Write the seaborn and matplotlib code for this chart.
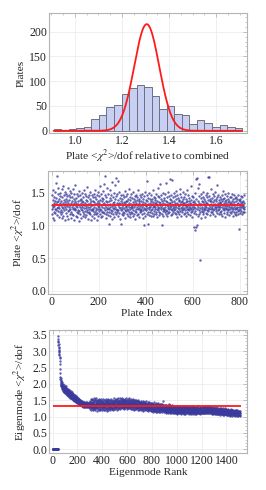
import numpy as np
import pandas as pd
import matplotlib
matplotlib.use("Agg")
import matplotlib.pyplot as plt
from matplotlib.ticker import MultipleLocator
import seaborn as sns

# ---------------- data ----------------
# Panel 1: histogram of plate <chi^2>/dof relative to combined
hist_edges = [0.910, 0.942, 0.974, 1.006, 1.038, 1.070, 1.102, 1.134, 1.166, 1.198,
              1.230, 1.262, 1.294, 1.326, 1.358, 1.390, 1.422, 1.454, 1.486, 1.518,
              1.550, 1.582, 1.614, 1.646, 1.678, 1.710]
hist_counts = [3, 0, 3, 5, 8, 23, 31, 48, 52, 74, 86, 92, 88, 70, 44, 50, 33, 31, 13, 22,
               16, 8, 11, 8, 5]
# Gaussian model curve parameters (amplitude, mean, sigma)
gauss_amp, gauss_mu, gauss_sigma = 215.0, 1.305, 0.053

# Panel 2: plate <chi^2>/dof per plate (hundredths), plate index 0..819
plate_chi2_x100 = [
131,118,147,125,139,112,128,154,121,135,144,109,130,138,126,151,119,133,142,124,
165,127,136,176,116,129,148,137,122,158,131,113,140,127,150,135,121,145,118,132,
137,124,156,111,129,143,120,134,161,127,115,139,146,123,131,152,108,136,128,141,
119,133,149,126,138,114,145,130,122,157,135,110,128,147,124,139,117,153,132,126,
143,121,134,112,150,129,137,118,144,125,131,156,116,140,127,135,109,148,123,138,
162,126,130,115,142,134,121,149,128,113,137,124,145,119,133,131,153,122,107,139,
128,146,117,135,125,141,111,132,150,123,138,129,114,144,120,136,127,155,118,131,
134,122,148,113,139,127,145,116,130,124,159,121,137,110,143,128,133,119,146,126,
120,141,129,152,117,135,123,109,138,131,126,147,114,132,144,122,137,125,118,149,
136,112,128,143,121,133,155,118,127,140,124,108,135,146,119,130,126,151,115,138,
129,145,122,134,160,117,139,126,131,113,148,124,137,120,142,128,115,153,133,121,
140,127,164,119,135,176,123,132,147,118,129,138,111,144,125,158,121,136,127,116,
131,149,120,102,137,126,142,114,155,128,133,119,146,124,139,110,130,167,122,135,
127,143,118,136,125,150,113,132,140,121,162,129,117,145,126,172,134,120,148,123,
168,131,124,139,115,135,128,152,119,142,127,133,110,102,138,123,146,129,117,134,
125,140,121,131,147,116,136,127,143,119,134,124,153,112,130,138,122,145,128,118,
137,126,149,115,132,141,123,135,120,156,128,117,139,126,144,113,133,129,148,121,
130,119,142,127,136,114,151,124,133,129,140,118,145,122,131,137,110,147,125,134,
120,143,128,116,139,131,125,154,118,134,127,141,113,137,123,146,130,121,138,126,
144,122,133,117,149,128,136,124,140,112,131,100,127,145,119,135,126,152,115,132,
139,124,130,146,118,137,127,168,102,133,121,142,128,116,150,125,134,120,141,129,
123,137,115,131,147,126,140,119,133,128,155,114,136,122,144,130,118,139,125,134,
128,142,120,135,117,149,126,132,138,113,145,124,129,158,121,136,127,116,143,131,
119,134,163,125,140,128,146,118,131,101,137,122,150,127,134,115,142,126,139,124,
133,120,148,129,117,138,124,165,131,143,122,136,114,127,152,130,119,145,126,135,
121,141,171,128,134,116,147,125,139,130,169,123,136,118,144,127,132,120,150,129,
137,124,131,145,119,134,126,153,117,140,128,135,122,146,113,132,127,142,121,138,
125,139,130,118,148,133,122,156,127,136,115,143,129,124,137,120,151,131,126,134,
140,117,135,127,144,123,132,119,149,128,136,114,141,126,130,155,121,138,125,133,
118,146,129,137,124,142,116,135,131,127,160,120,139,126,133,113,145,128,122,136,
131,125,143,119,137,128,97,150,122,93,134,127,171,98,140,117,173,132,100,126,
138,115,158,129,163,124,135,118,145,131,47,127,120,142,133,112,148,126,137,122,
129,144,121,136,117,152,127,133,124,140,113,138,130,126,147,119,135,128,143,123,
134,118,150,174,127,139,122,175,131,126,145,116,137,129,141,120,156,133,125,138,
121,142,130,127,148,118,136,124,139,132,126,145,115,133,128,151,122,137,129,140,
125,162,131,119,143,128,135,123,147,130,117,139,126,134,121,144,129,136,118,141,
133,122,146,128,137,115,140,126,153,131,119,135,127,142,124,138,113,149,130,125,
139,127,134,121,145,130,118,141,126,136,123,150,129,116,138,132,125,144,120,134,
128,143,119,135,127,148,122,137,131,114,140,126,133,147,121,129,136,118,142,125,
131,120,144,127,138,116,133,125,141,129,122,146,118,135,128,139,124,95,131,137,
126,140,119,134,128,145,122,136,130,117,143,127,132,121,138,125,147,129,120,135,
]
combined_chi2 = 1.31

# Panel 3: eigenmode <chi^2>/dof (hundredths), eigenmode rank 1..1510
eig_chi2_x100 = [
2,2,2,2,2,2,2,2,2,2,2,2,2,2,2,2,2,2,2,2,
2,2,2,2,2,2,2,2,2,2,2,2,2,2,2,2,2,2,2,2,
2,2,345,336,328,331,318,322,309,312,301,305,296,292,288,283,279,271,262,247,
232,221,214,209,217,203,198,211,196,205,193,201,189,207,195,186,199,191,184,197,
188,194,182,201,185,179,192,186,176,190,183,197,178,187,181,174,193,180,185,172,
184,178,189,175,181,193,171,186,177,183,169,188,174,180,165,185,176,170,182,173,
168,179,174,185,166,177,171,163,182,170,175,161,178,167,173,180,164,171,158,176,
169,162,174,166,158,178,164,170,156,167,173,160,165,171,154,168,162,175,157,166,
163,158,170,152,165,160,155,168,149,162,157,164,153,166,159,150,161,156,167,148,
158,163,151,157,146,162,154,149,160,152,145,158,155,147,161,150,144,156,153,142,
152,147,158,143,153,149,141,155,146,151,139,150,144,154,140,148,145,137,152,143,
146,141,150,137,145,148,135,143,139,149,134,144,140,136,147,133,142,138,145,131,
141,137,145,133,140,136,143,130,139,144,134,138,132,146,135,141,129,137,143,133,
138,134,142,130,139,135,144,131,137,140,128,136,141,133,145,129,138,134,132,140,
135,141,131,138,133,143,129,136,140,132,137,128,142,134,139,130,136,144,131,137,
149,129,140,123,144,135,153,126,142,131,146,120,138,150,133,127,143,136,155,130,
131,145,124,139,152,128,141,134,119,147,137,126,156,132,140,122,144,136,129,150,
140,127,153,133,121,146,138,130,148,125,135,157,129,142,118,137,145,131,151,134,
126,143,135,150,128,139,122,147,136,131,154,124,141,133,145,120,138,152,130,142,
144,132,119,138,151,127,140,135,148,123,136,129,155,134,141,121,146,137,128,149,
134,148,125,141,130,153,122,137,145,128,139,151,126,135,143,119,140,132,149,136,
129,142,137,120,150,133,146,127,138,155,124,136,144,131,140,118,147,135,126,152,
145,123,139,134,149,128,141,121,136,153,130,143,127,138,146,132,124,150,137,129,
137,151,126,144,132,119,147,136,129,142,154,125,139,133,148,122,140,135,127,145,
124,139,148,131,143,127,152,135,121,146,133,140,129,156,136,123,144,138,130,147,
141,128,150,136,124,147,139,131,155,133,126,145,137,152,129,142,120,148,135,140,
130,153,137,144,127,149,134,123,146,140,157,132,138,125,151,136,143,129,148,139,
147,135,124,142,156,131,139,145,128,150,137,133,153,126,141,148,130,144,136,158,
133,146,140,127,151,138,125,149,143,134,155,130,141,147,129,152,137,124,145,139,
150,131,144,137,126,153,140,135,148,129,142,158,133,146,139,124,151,136,143,130,
137,149,128,143,154,132,140,125,147,136,130,152,141,127,145,138,156,131,144,135,
126,143,138,151,129,146,134,122,148,140,133,155,137,128,144,131,150,139,124,146,
142,130,147,135,124,149,138,131,153,127,141,136,145,129,151,134,120,143,137,148,
131,145,127,138,150,124,141,133,147,129,136,152,122,139,144,128,135,149,126,140,
138,126,143,132,148,121,137,145,130,151,134,125,142,136,119,146,131,139,127,144,
128,143,131,139,122,146,134,126,149,130,137,120,141,135,127,145,132,138,124,140,
136,124,142,129,147,121,135,131,144,126,139,118,133,146,128,137,123,141,130,134,
125,139,130,143,120,134,127,145,132,122,138,129,148,124,136,131,119,140,128,135,
133,121,140,127,136,124,144,130,118,138,126,142,131,123,135,128,146,120,137,129,
122,136,128,141,125,132,119,139,127,134,121,143,130,126,137,117,133,129,140,124,
131,117,136,125,142,121,129,134,115,138,126,122,140,119,132,127,144,118,130,135,
120,134,128,116,139,124,131,119,137,127,113,135,123,141,126,118,133,129,122,138,
129,115,137,124,132,120,140,126,117,134,128,121,143,119,130,125,136,114,131,127,
118,133,125,139,121,128,114,136,123,131,127,119,138,124,116,134,129,122,140,126,
130,121,127,115,135,124,132,118,126,149,120,137,123,113,131,128,119,134,125,122,
119,132,124,113,137,121,128,116,130,125,111,134,122,127,118,135,120,129,114,126,
127,115,131,122,118,136,124,112,129,120,133,117,125,138,121,114,130,123,116,128,
113,126,120,134,117,123,129,111,127,121,115,132,124,118,130,112,126,119,135,122,
124,114,128,119,133,116,122,127,110,125,118,131,113,121,129,117,123,126,112,130,
116,127,121,110,130,118,124,113,128,120,115,133,119,122,111,126,117,129,121,114,
122,112,126,118,109,129,116,121,114,131,119,111,125,117,128,113,120,124,110,127,
115,128,120,111,124,118,132,113,122,127,108,119,125,116,130,114,121,112,126,118,
126,113,119,129,115,122,110,127,117,123,131,112,120,116,128,109,124,118,114,130,
111,124,118,132,113,121,127,115,119,109,128,122,116,125,112,130,117,121,126,114,
120,128,114,117,125,110,123,119,131,113,118,126,111,122,129,115,121,108,127,116,
113,125,118,129,110,121,116,127,112,124,119,108,130,115,122,117,126,111,120,128,
122,111,127,116,120,131,113,118,125,109,123,117,128,114,121,126,110,119,115,129,
117,128,112,121,126,108,119,124,115,130,113,120,116,127,111,122,118,125,109,123,
125,114,120,110,129,117,122,113,127,119,111,126,116,121,131,112,118,124,115,120,
112,123,118,127,109,121,115,129,114,120,126,110,119,124,117,128,113,122,116,111,
121,113,127,118,110,124,116,130,112,122,119,126,114,129,117,111,125,120,115,128,
116,128,112,123,119,131,114,120,126,110,122,117,129,113,124,118,127,115,121,112,
125,114,121,130,116,123,111,127,119,115,132,118,124,112,128,120,117,126,113,122,
113,126,118,110,124,120,129,114,122,117,127,111,121,125,115,130,118,112,123,119,
120,111,125,116,122,109,127,113,119,124,108,121,115,128,112,118,123,110,117,126,
110,122,115,127,112,119,108,124,116,113,126,111,120,117,109,123,114,128,118,112,
119,108,123,113,117,126,110,121,115,107,124,118,112,127,114,109,120,116,122,111,
114,121,109,118,125,112,116,106,122,113,119,110,126,115,108,120,117,111,123,113,
107,118,113,122,110,116,124,109,114,120,105,117,112,125,111,119,115,108,121,113,
116,110,121,106,119,113,108,123,111,117,126,109,114,120,107,118,112,122,110,115,
108,119,112,105,121,114,110,117,106,122,113,109,118,111,104,120,115,107,116,112,
114,106,118,110,120,103,115,112,108,121,109,116,105,119,111,113,107,117,110,122,
105,117,111,119,108,114,102,120,112,107,116,110,121,106,113,118,109,104,115,111,
112,104,116,109,118,106,113,120,107,111,103,117,110,114,108,119,105,112,116,109,
108,115,103,112,117,106,110,119,105,113,109,116,102,111,118,107,114,110,104,113,
111,105,116,108,113,103,110,117,106,112,
]

# ---------------- style ----------------
sns.set_style("white")
plt.rcParams["font.family"] = ["Liberation Serif", "DejaVu Serif"]
plt.rcParams["mathtext.fontset"] = "stix"

FRAME = "#b4b4b4"
GRID = "#ececec"
TXT = "#222222"
RED = "#ff1a1a"
DOT = "#3a3a9c"
FS = 8.2

fig = plt.figure(figsize=(2.66, 4.90), dpi=100)
ax1 = fig.add_axes([0.184, 0.728, 0.744, 0.246])
ax2 = fig.add_axes([0.179, 0.400, 0.748, 0.2517])
ax3 = fig.add_axes([0.185, 0.075, 0.742, 0.2517])


def style(ax, xmaj, xmin, ymaj, ymin):
    for s in ax.spines.values():
        s.set_color(FRAME)
        s.set_linewidth(0.8)
    ax.xaxis.set_major_locator(MultipleLocator(xmaj))
    ax.xaxis.set_minor_locator(MultipleLocator(xmin))
    ax.yaxis.set_major_locator(MultipleLocator(ymaj))
    ax.yaxis.set_minor_locator(MultipleLocator(ymin))
    ax.tick_params(which="both", direction="in", top=True, right=True,
                   color=FRAME, labelsize=FS + 0.3, labelcolor=TXT, pad=1.2)
    ax.tick_params(which="major", length=3, width=0.6)
    ax.tick_params(which="minor", length=1.6, width=0.5)
    ax.grid(True, which="major", color=GRID, linewidth=0.6)
    ax.set_axisbelow(True)


# ---- panel 1: histogram + gaussian
centers = [(a + b) / 2 for a, b in zip(hist_edges[:-1], hist_edges[1:])]
hdf = pd.DataFrame({"x": centers, "n": [float(c) for c in hist_counts]})
sns.histplot(x=hdf["x"], weights=hdf["n"], bins=list(hist_edges), ax=ax1,
             color="#c7cff2", edgecolor="#6e7080", linewidth=0.7, alpha=1.0)
gx = np.linspace(hist_edges[0], hist_edges[-1], 400)
gdf = pd.DataFrame({"x": gx,
                    "y": gauss_amp * np.exp(-0.5 * ((gx - gauss_mu) / gauss_sigma) ** 2)})
sns.lineplot(data=gdf, x="x", y="y", ax=ax1, color=RED, linewidth=1.3)
ax1.set_xlim(0.89, 1.73)
ax1.set_ylim(-5, 238)
style(ax1, 0.2, 0.05, 50, 10)
ax1.set_xlabel(r"Plate <$\chi^2$>/dof relative to combined", fontsize=FS, color=TXT, labelpad=1)
ax1.set_ylabel("Plates", fontsize=FS, color=TXT, labelpad=3)

# ---- panel 2: plate scatter
pdf = pd.DataFrame({"idx": np.arange(len(plate_chi2_x100)),
                    "chi2": np.array(plate_chi2_x100) / 100.0})
sns.scatterplot(data=pdf, x="idx", y="chi2", ax=ax2, s=3, color=DOT,
                linewidth=0, alpha=0.8)
ax2.hlines(combined_chi2, 0, len(plate_chi2_x100) - 1, color=RED, linewidth=1.3)
ax2.set_xlim(-17, 828)
ax2.set_ylim(-0.05, 1.84)
style(ax2, 200, 50, 0.5, 0.1)
ax2.yaxis.set_major_formatter(plt.FormatStrFormatter("%.1f"))
ax2.set_xlabel("Plate Index", fontsize=FS, color=TXT, labelpad=1)
ax2.set_ylabel(r"Plate <$\chi^2$>/dof", fontsize=FS, color=TXT, labelpad=3)

# ---- panel 3: eigenmode scatter
edf = pd.DataFrame({"rank": np.arange(1, len(eig_chi2_x100) + 1),
                    "chi2": np.array(eig_chi2_x100) / 100.0})
sns.scatterplot(data=edf, x="rank", y="chi2", ax=ax3, s=3, color=DOT,
                linewidth=0, alpha=0.8)
ax3.hlines(combined_chi2, 0, len(eig_chi2_x100) + 5, color=RED, linewidth=1.3)
ax3.set_xlim(-27, 1563)
ax3.set_ylim(-0.12, 3.65)
style(ax3, 200, 50, 0.5, 0.1)
ax3.yaxis.set_major_formatter(plt.FormatStrFormatter("%.1f"))
ax3.set_xlabel("Eigenmode Rank", fontsize=FS, color=TXT, labelpad=1)
ax3.set_ylabel(r"Eigenmode <$\chi^2$>/dof", fontsize=FS, color=TXT, labelpad=3)

fig.savefig("out.png", dpi=100)
